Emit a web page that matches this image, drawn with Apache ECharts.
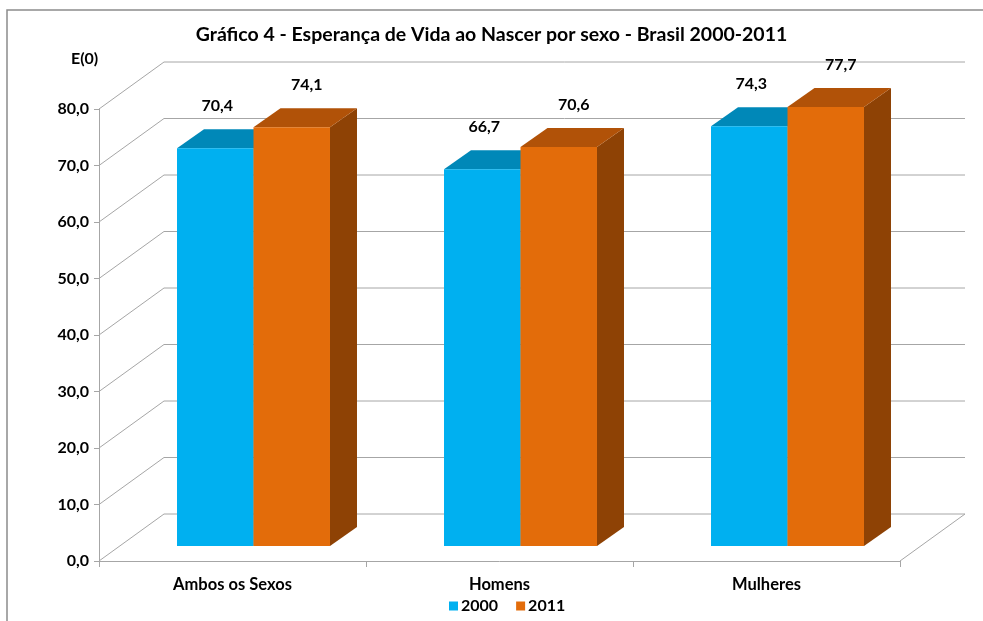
<!DOCTYPE html>
<html>
<head>
<meta charset="utf-8">
<script src="https://cdn.jsdelivr.net/npm/echarts@6/dist/echarts.min.js"></script>
<style>
  html, body { margin: 0; padding: 0; background: #fff; }
  #chart { width: 983px; height: 621px; }
</style>
</head>
<body>
<div id="chart"></div>
<script>
// dados do gráfico
const categorias = ['Ambos os Sexos', 'Homens', 'Mulheres'];
const anos = ['2000', '2011'];
const valores2000 = [70.4, 66.7, 74.3];
const valores2011 = [74.1, 70.6, 77.7];
const ticksY = [0, 10, 20, 30, 40, 50, 60, 70, 80];

const FONTE = 'Lato';
const fmt = v => v.toFixed(1).replace('.', ',');

// deslocamentos da perspectiva (px)
const fundo = { dx: 65, dy: -47 };    // parede do fundo
const planoBarra = { dx: 21, dy: -15 }; // face frontal das barras
const prof = { dx: 27, dy: -19 };     // profundidade da barra

const cores = {
  '2000': { frente: '#00B0F0', topo: '#0088B8', lado: '#006E96' },
  '2011': { frente: '#E36C0A', topo: '#B15208', lado: '#8E4205' }
};

const chart = echarts.init(document.getElementById('chart'));

// linhas de grade da parede do fundo (com a diagonal do lado esquerdo)
function renderGrade(params, api) {
  const v = api.value(0);
  const cs = params.coordSys;
  const y = api.coord([0, v])[1];
  const x0 = cs.x;
  const children = [{
    type: 'polyline',
    shape: { points: [[x0, y], [x0 + fundo.dx, y + fundo.dy], [x0 + cs.width + fundo.dx, y + fundo.dy]] },
    style: { stroke: '#A6A6A6', lineWidth: 1, fill: null }
  }];
  if (v === 0) {
    children.push({
      type: 'line',
      shape: { x1: x0 + cs.width, y1: y, x2: x0 + cs.width + fundo.dx, y2: y + fundo.dy },
      style: { stroke: '#A6A6A6', lineWidth: 1 }
    });
  }
  return { type: 'group', children };
}

function renderBarra(ano, lado, labelDx) {
  return function (params, api) {
    const i = api.value(0);
    const v = api.value(1);
    const base = api.coord([i, 0]);
    const topoPt = api.coord([i, v]);
    const larg = api.size([1, 0])[0] * 0.2865;
    const cx = base[0] + planoBarra.dx;
    const x0 = lado < 0 ? cx - larg : cx;
    const x1 = x0 + larg;
    const yb = base[1] + planoBarra.dy;
    const yt = topoPt[1] + planoBarra.dy;
    const c = cores[ano];
    return {
      type: 'group',
      children: [
        {
          type: 'polygon',
          shape: { points: [[x1, yt], [x1 + prof.dx, yt + prof.dy], [x1 + prof.dx, yb + prof.dy], [x1, yb]] },
          style: { fill: c.lado }
        },
        {
          type: 'polygon',
          shape: { points: [[x0, yt], [x1, yt], [x1 + prof.dx, yt + prof.dy], [x0 + prof.dx, yt + prof.dy]] },
          style: { fill: c.topo }
        },
        {
          type: 'rect',
          shape: { x: x0, y: yt, width: larg, height: yb - yt },
          style: { fill: c.frente }
        },
        {
          type: 'text',
          x: (x0 + x1) / 2 + labelDx,
          y: yt - 42,
          style: {
            text: fmt(v), fill: '#000', font: 'bold 16px ' + FONTE,
            align: 'center', verticalAlign: 'middle'
          }
        }
      ]
    };
  };
}

chart.setOption({
  animation: false,
  backgroundColor: '#fff',
  title: {
    text: 'Gráfico 4 - Esperança de Vida ao Nascer por sexo - Brasil 2000-2011',
    left: 'center',
    top: 20,
    textStyle: { fontFamily: FONTE, fontWeight: 'bold', fontSize: 19.5, color: '#000' }
  },
  legend: {
    data: anos,
    left: 444,
    top: 593,
    icon: 'rect',
    itemWidth: 9,
    itemHeight: 9,
    itemGap: 18,
    itemStyle: { borderWidth: 0 },
    textStyle: { fontFamily: FONTE, fontWeight: 'bold', fontSize: 16, color: '#000', padding: [0, 0, 0, -2] }
  },
  graphic: [
    {
      type: 'rect',
      shape: { x: 7, y: 10, width: 1000, height: 700 },
      style: { fill: null, stroke: '#8C8C8C', lineWidth: 1.5 },
      silent: true
    },
    {
      type: 'text',
      left: 71,
      top: 51,
      style: { text: 'E(0)', fill: '#000', font: 'bold 16px ' + FONTE }
    }
  ],
  grid: { left: 99, right: 83, top: 109, bottom: 60 },
  xAxis: {
    type: 'category',
    data: categorias,
    axisLine: { lineStyle: { color: '#A6A6A6' } },
    axisTick: { show: true, length: 6, lineStyle: { color: '#A6A6A6' } },
    axisLabel: { margin: 15, color: '#000', fontFamily: FONTE, fontWeight: 'bold', fontSize: 16.5 }
  },
  yAxis: {
    type: 'value',
    min: 0,
    max: 80,
    interval: 10,
    axisLine: { show: true, lineStyle: { color: '#A6A6A6' } },
    axisTick: { show: true, length: 5, lineStyle: { color: '#A6A6A6' } },
    splitLine: { show: false },
    axisLabel: { margin: 10, color: '#000', fontFamily: FONTE, fontWeight: 'bold', fontSize: 16, formatter: fmt }
  },
  series: [
    {
      name: 'grade',
      type: 'custom',
      renderItem: renderGrade,
      data: ticksY.map(v => [v]),
      encode: { y: 0 },
      silent: true,
      z: 1
    },
    {
      name: '2000',
      type: 'custom',
      renderItem: renderBarra('2000', -1, 2),
      itemStyle: { color: cores['2000'].frente },
      data: valores2000.map((v, i) => [i, v]),
      encode: { x: 0, y: 1 },
      z: 2
    },
    {
      name: '2011',
      type: 'custom',
      renderItem: renderBarra('2011', 1, 15),
      itemStyle: { color: cores['2011'].frente },
      data: valores2011.map((v, i) => [i, v]),
      encode: { x: 0, y: 1 },
      z: 3
    }
  ]
});
</script>
</body>
</html>
